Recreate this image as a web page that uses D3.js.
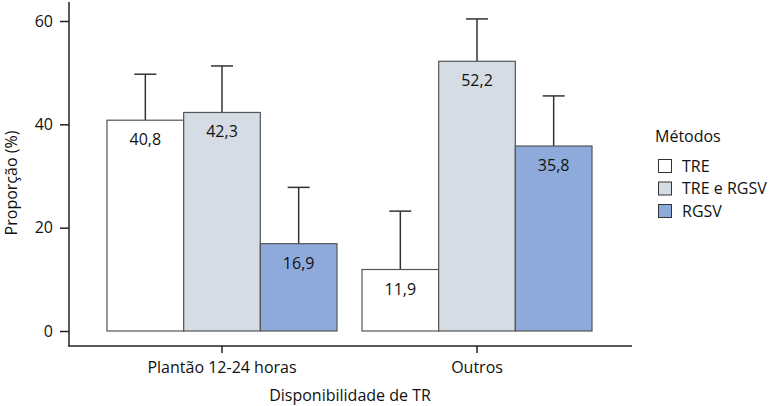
<!DOCTYPE html>
<html>
<head>
<meta charset="utf-8">
<script src="https://cdn.jsdelivr.net/npm/d3@7"></script>
<style>
  body { margin: 0; background: #fff; }
  svg { display: block; font-family: "Open Sans", sans-serif; }
</style>
</head>
<body>
<svg id="chart" width="773" height="406"></svg>
<script>
const groups = ["Plantão 12-24 horas", "Outros"];
const methods = ["TRE", "TRE e RGSV", "RGSV"];
const valTRE = [40.8, 11.9];
const valTRERGSV = [42.3, 52.2];
const valRGSV = [16.9, 35.8];
const upTRE = [49.7, 23.2];
const upTRERGSV = [51.3, 60.4];
const upRGSV = [27.8, 45.5];
const yTicks = [0, 20, 40, 60];
const colors = ["#ffffff", "#d6dce4", "#8eaadb"];

const values = [valTRE, valTRERGSV, valRGSV];
const uppers = [upTRE, upTRERGSV, upRGSV];

const svg = d3.select("#chart");
const axisColor = "#222";
const fs = 16;

const x0 = d3.scaleBand().domain(groups).range([69, 630]).paddingInner(0.098).paddingOuter(0.149);
const x1 = d3.scaleBand().domain(methods).range([0, x0.bandwidth()]);
const y = d3.scaleLinear().domain([0, 60]).range([331, 21]);
const color = d3.scaleOrdinal().domain(methods).range(colors);

const data = [];
groups.forEach((g, gi) => methods.forEach((m, mi) => {
  data.push({ g, m, v: values[mi][gi], u: uppers[mi][gi] });
}));

// error bars (upper part)
const capW = 22;
const eb = svg.append("g");
data.forEach(d => {
  const cx = x0(d.g) + x1(d.m) + x1.bandwidth() / 2;
  eb.append("line").attr("x1", cx).attr("x2", cx).attr("y1", y(d.v)).attr("y2", y(d.u))
    .attr("stroke", "#333").attr("stroke-width", 1.5);
  eb.append("line").attr("x1", cx - capW / 2).attr("x2", cx + capW / 2).attr("y1", y(d.u)).attr("y2", y(d.u))
    .attr("stroke", "#333").attr("stroke-width", 1.5);
});

// bars
svg.append("g").selectAll("rect").data(data).join("rect")
  .attr("x", d => x0(d.g) + x1(d.m))
  .attr("y", d => y(d.v))
  .attr("width", x1.bandwidth())
  .attr("height", d => y(0) - y(d.v))
  .attr("fill", d => color(d.m))
  .attr("stroke", "#555")
  .attr("stroke-width", 1.2);

// bar labels
svg.append("g").selectAll("text").data(data).join("text")
  .attr("x", d => x0(d.g) + x1(d.m) + x1.bandwidth() / 2)
  .attr("y", d => y(d.v) + 25)
  .attr("text-anchor", "middle")
  .attr("font-size", fs)
  .attr("fill", "#111")
  .text(d => d.v.toFixed(1).replace(".", ","));

// y axis
const yAxis = svg.append("g").attr("transform", "translate(69,0)")
  .call(d3.axisLeft(y).tickValues(yTicks).tickSize(9).tickPadding(7).tickFormat(d => d));
yAxis.select(".domain").remove();
yAxis.selectAll("line").attr("stroke", axisColor).attr("stroke-width", 1.5);
yAxis.selectAll("text").attr("font-size", fs).attr("fill", "#111").attr("font-family", "Open Sans");
svg.append("line").attr("x1", 69).attr("x2", 69).attr("y1", 2).attr("y2", 346.5)
  .attr("stroke", axisColor).attr("stroke-width", 1.5);

// x axis
const xAxis = svg.append("g").attr("transform", "translate(0,346)")
  .call(d3.axisBottom(x0).tickSize(7).tickPadding(8.5));
xAxis.select(".domain").remove();
xAxis.selectAll("line").attr("stroke", axisColor).attr("stroke-width", 1.5);
xAxis.selectAll("text").attr("font-size", fs).attr("fill", "#111").attr("font-family", "Open Sans");
svg.append("line").attr("x1", 68.25).attr("x2", 632).attr("y1", 346).attr("y2", 346)
  .attr("stroke", axisColor).attr("stroke-width", 1.5);

// axis titles
svg.append("text").attr("x", 350).attr("y", 401).attr("text-anchor", "middle")
  .attr("font-size", fs).attr("fill", "#111").text("Disponibilidade de TR");
svg.append("text").attr("transform", "translate(17,183) rotate(-90)").attr("text-anchor", "middle")
  .attr("font-size", fs).attr("fill", "#111").text("Proporção (%)");

// legend
const leg = svg.append("g");
leg.append("text").attr("x", 655).attr("y", 142).attr("font-size", fs).attr("fill", "#111").text("Métodos");
methods.forEach((m, i) => {
  const yy = 159.5 + i * 22.5;
  leg.append("rect").attr("x", 658.5).attr("y", yy).attr("width", 13).attr("height", 13)
    .attr("fill", color(m)).attr("stroke", "#333").attr("stroke-width", 1);
  leg.append("text").attr("x", 682).attr("y", yy + 12).attr("font-size", fs).attr("fill", "#111").text(m);
});
</script>
</body>
</html>
